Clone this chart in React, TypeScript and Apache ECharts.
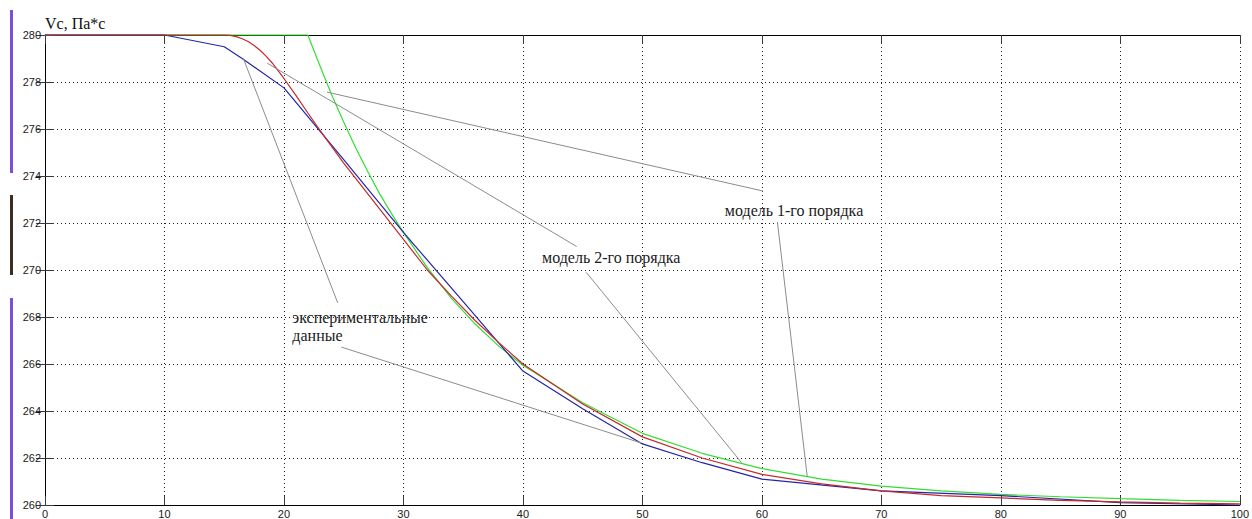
import React, { useEffect, useRef } from "react";
import * as echarts from "echarts";

// Experimental viscosity readings
const expX = [0, 10, 15, 16.5, 20, 25, 30, 35, 40, 45, 50, 55, 60, 70, 80, 90, 100];
const expY = [280, 280, 279.5, 279.0, 277.75, 274.7, 271.6, 268.65, 265.7, 264.1, 262.6, 261.8, 261.1, 260.6, 260.4, 260.1, 260.0];

// First-order model response
const model1X = [0, 22, 23, 24, 25, 26, 27, 28, 29, 30, 32, 34, 36, 38, 40, 45, 50, 55, 60, 65, 70, 75, 80, 85, 90, 95, 100];
const model1Y = [280, 280, 278.7, 277.45, 276.3, 275.2, 274.2, 273.25, 272.4, 271.6, 270.1, 268.8, 267.7, 266.75, 265.95, 264.35, 263.05, 262.2, 261.55, 261.1, 260.8, 260.6, 260.45, 260.35, 260.27, 260.2, 260.15];

// Second-order model response
const model2X = [0, 15, 15.5, 16, 16.5, 17, 17.5, 18, 18.5, 19, 20, 21, 22, 23, 24, 25, 26, 27, 28, 29, 30, 32, 34, 36, 38, 40, 45, 50, 55, 60, 65, 70, 75, 80, 85, 90, 95, 100];
const model2Y = [280, 280, 279.98, 279.93, 279.84, 279.72, 279.55, 279.35, 279.1, 278.82, 278.15, 277.43, 276.68, 275.95, 275.25, 274.55, 273.9, 273.25, 272.6, 271.95, 271.3, 270.0, 268.9, 267.85, 266.9, 266.0, 264.3, 262.9, 262.0, 261.3, 260.9, 260.6, 260.4, 260.3, 260.2, 260.13, 260.08, 260.05];

const xMin = 0;
const xMax = 100;
const xStep = 10;
const yMin = 260;
const yMax = 280;
const yStep = 2;

// Callout text lines, each anchored in data units (left edge, vertical middle)
const calloutLines = ["модель 1-го порядка", "модель 2-го порядка", "экспериментальные", "данные"];
const calloutAnchors = [
  [56.9, 272.55],
  [41.6, 270.55],
  [20.7, 268.0],
  [20.7, 267.23],
];

// Leader lines from each callout to its curve, in data units
const leaderLines = [
  [[60.1, 273.36], [23.6, 277.57]],
  [[61.3, 272.04], [63.8, 261.19]],
  [[44.5, 271.0], [18.6, 278.8]],
  [[45.3, 269.9], [58.3, 261.8]],
  [[24.5, 268.6], [16.6, 279.0]],
  [[24.8, 266.72], [49.9, 262.64]],
];

const zip = (xs: number[], ys: number[]) => xs.map((x, i) => [x, ys[i]]);

export default function App() {
  const ref = useRef<HTMLDivElement>(null);

  useEffect(() => {
    if (!ref.current) return;
    const chart = echarts.init(ref.current, null, { renderer: "svg" });

    const labelFont = { fontFamily: "Liberation Sans", fontSize: 11, color: "#1a1a1a" };
    const tickStyle = { color: "#3a3a3a", width: 1 };
    const gridDots = { type: [1, 3] as any, color: "#222", width: 1 };

    chart.setOption({
      animation: false,
      backgroundColor: "#ffffff",
      grid: { left: 45, right: 9, top: 35, bottom: 14, containLabel: false },
      xAxis: [
        {
          type: "value",
          min: xMin,
          max: xMax,
          interval: xStep,
          axisLine: { show: true, lineStyle: { color: "#000", width: 1 } },
          axisTick: { show: true, inside: true, length: 9, lineStyle: tickStyle },
          axisLabel: { ...labelFont, margin: 3 },
          splitLine: { show: true, lineStyle: gridDots },
        },
        {
          type: "value",
          position: "top",
          min: xMin,
          max: xMax,
          interval: xStep,
          axisLine: { show: true, lineStyle: { color: "#000", width: 1 } },
          axisTick: { show: true, inside: true, length: 9, lineStyle: tickStyle },
          axisLabel: { show: false },
          splitLine: { show: false },
        },
      ],
      yAxis: [
        {
          type: "value",
          min: yMin,
          max: yMax,
          interval: yStep,
          axisLine: { show: true, lineStyle: { color: "#000", width: 1 } },
          axisTick: { show: true, inside: true, length: 9, lineStyle: tickStyle },
          axisLabel: { ...labelFont, margin: 4 },
          splitLine: { show: true, lineStyle: gridDots },
        },
        {
          type: "value",
          position: "right",
          min: yMin,
          max: yMax,
          interval: yStep,
          axisLine: { show: true, lineStyle: { color: "#000", width: 1 } },
          axisTick: { show: true, inside: true, length: 9, lineStyle: tickStyle },
          axisLabel: { show: false },
          splitLine: { show: false },
        },
      ],
      series: [
        {
          name: "модель 1-го порядка",
          type: "line",
          data: zip(model1X, model1Y),
          showSymbol: false,
          clip: false,
          lineStyle: { color: "#35dc35", width: 1.2 },
        },
        {
          name: "экспериментальные данные",
          type: "line",
          data: zip(expX, expY),
          showSymbol: false,
          clip: false,
          lineStyle: { color: "#2424a8", width: 1.2 },
        },
        {
          name: "модель 2-го порядка",
          type: "line",
          data: zip(model2X, model2Y),
          showSymbol: false,
          clip: false,
          lineStyle: { color: "#c42a2a", width: 1.2 },
        },
      ],
    });

    const px = (p: number[]) => chart.convertToPixel({ gridIndex: 0 }, p) as number[];

    const graphics: any[] = [];

    // Side bars along the left edge of the page
    graphics.push(
      { type: "rect", shape: { x: 10, y: 10, width: 3, height: 163 }, style: { fill: "#7a50d8" }, silent: true },
      { type: "rect", shape: { x: 10, y: 195, width: 3, height: 80 }, style: { fill: "#3e2c1e" }, silent: true },
      { type: "rect", shape: { x: 10, y: 298, width: 3, height: 221 }, style: { fill: "#7a50d8" }, silent: true }
    );

    // Axis caption
    const topLeft = px([xMin, yMax]);
    graphics.push({
      type: "text",
      x: topLeft[0],
      y: topLeft[1] - 12,
      style: {
        text: "Vc, Па*с",
        fontFamily: "Liberation Serif",
        fontSize: 16,
        fill: "#111",
        verticalAlign: "middle",
        align: "left",
      },
    });

    leaderLines.forEach(([a, b]) => {
      const p1 = px(a);
      const p2 = px(b);
      graphics.push({
        type: "line",
        shape: { x1: p1[0], y1: p1[1], x2: p2[0], y2: p2[1] },
        style: { stroke: "#8c8c8c", lineWidth: 1 },
        silent: true,
        z: 10,
      });
    });

    calloutLines.forEach((t, i) => {
      const p = px(calloutAnchors[i]);
      graphics.push({
        type: "text",
        x: p[0],
        y: p[1],
        z: 11,
        style: {
          text: t,
          fontFamily: "Liberation Serif",
          fontSize: 16,
          fill: "#1a1a1a",
          verticalAlign: "middle",
          align: "left",
        },
      });
    });

    chart.setOption({ graphic: graphics });

    return () => chart.dispose();
  }, []);

  return (
    <div
      ref={ref}
      style={{ position: "fixed", left: 0, top: 0, width: 1252, height: 519, background: "#fff" }}
    />
  );
}
